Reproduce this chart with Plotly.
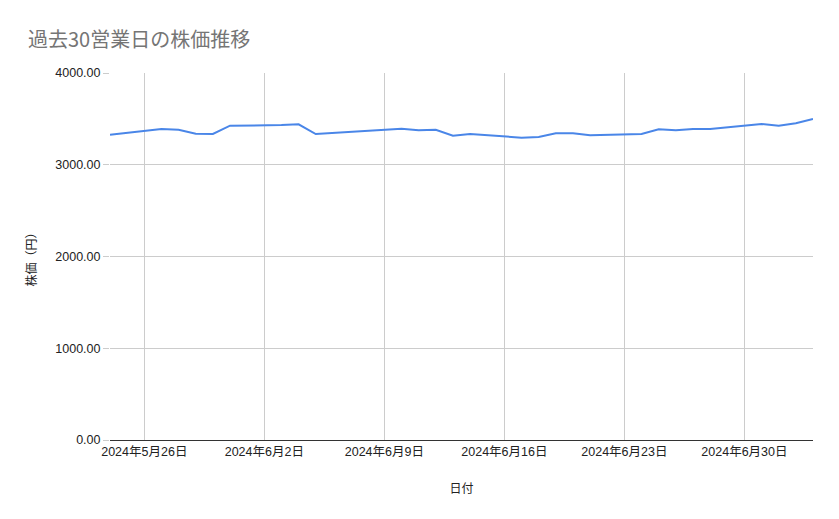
import plotly.graph_objects as go

dates = [
    "2024-05-24", "2024-05-27", "2024-05-28", "2024-05-29", "2024-05-30", "2024-05-31",
    "2024-06-03", "2024-06-04", "2024-06-05", "2024-06-06", "2024-06-07",
    "2024-06-10", "2024-06-11", "2024-06-12", "2024-06-13", "2024-06-14",
    "2024-06-17", "2024-06-18", "2024-06-19", "2024-06-20", "2024-06-21",
    "2024-06-24", "2024-06-25", "2024-06-26", "2024-06-27", "2024-06-28",
    "2024-07-01", "2024-07-02", "2024-07-03", "2024-07-04",
]
prices = [
    3328, 3390, 3382, 3338, 3335, 3426,
    3432, 3441, 3335, 3346, 3357,
    3393, 3375, 3382, 3316, 3335,
    3295, 3302, 3342, 3342, 3321,
    3335, 3386, 3375, 3390, 3390,
    3444, 3426, 3452, 3499,
]
tick_dates = ["2024-05-26", "2024-06-02", "2024-06-09", "2024-06-16", "2024-06-23", "2024-06-30"]
tick_labels = ["2024年5月26日", "2024年6月2日", "2024年6月9日", "2024年6月16日", "2024年6月23日", "2024年6月30日"]
y_ticks = [0, 1000, 2000, 3000, 4000]

FONT = "Liberation Sans, Arial, Noto Sans CJK JP, sans-serif"

fig = go.Figure()
fig.add_trace(go.Scatter(
    x=dates, y=prices, mode="lines",
    line=dict(color="#4a86e8", width=2),
    showlegend=False,
))

fig.update_layout(
    width=831, height=511,
    margin=dict(l=102, r=26, t=65, b=79),
    paper_bgcolor="white", plot_bgcolor="white",
    font=dict(family=FONT, size=12, color="#222222"),
    title=dict(
        text="過去30営業日の株価推移",
        font=dict(family="Noto Sans CJK JP, sans-serif", size=20, color="#757575"),
        x=20 / 831, xanchor="left", y=1 - 32 / 511, yanchor="middle",
    ),
    xaxis=dict(
        type="date",
        range=["2024-05-24", "2024-07-04"],
        tickvals=tick_dates, ticktext=tick_labels,
        showgrid=True, gridcolor="#cccccc", gridwidth=1,
        showline=True, linecolor="#333333", linewidth=1,
        ticks="", tickfont=dict(size=12.5, color="#222222"),
        title=dict(text="日付", font=dict(size=12, color="#222222"), standoff=26),
        zeroline=False,
    ),
    yaxis=dict(
        range=[0, 4000],
        tickvals=y_ticks, tickformat=".2f",
        showgrid=True, gridcolor="#cccccc", gridwidth=1,
        showline=False, zeroline=False,
        ticks="outside", ticklen=6, tickcolor="#cccccc",
        tickfont=dict(size=12.5, color="#222222"),
        title=dict(text="株価（円）", font=dict(size=12, color="#222222"), standoff=16),
    ),
)

fig.write_html("out.html")
